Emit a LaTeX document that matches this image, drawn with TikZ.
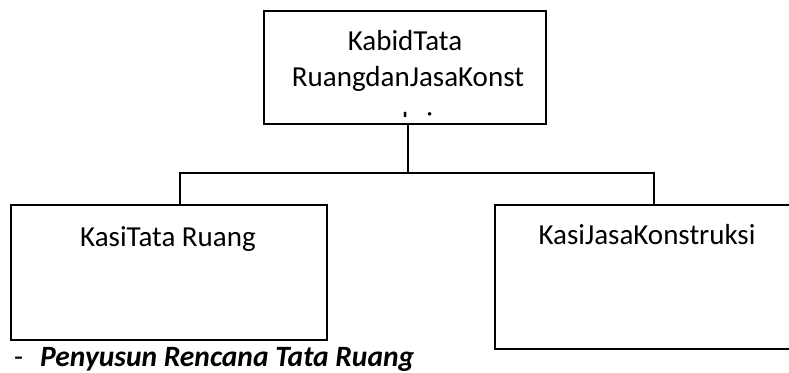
\documentclass[tikz,border=0pt]{standalone}
\usepackage{fontspec}
\setmainfont{Carlito}
\begin{document}
\begin{tikzpicture}[x=1pt,y=-1pt,
  box/.style={draw, line width=1.6pt, rectangle, inner sep=0pt},
  conn/.style={line width=1.6pt},
  lbl/.style={font=\fontsize{29}{35}\selectfont, inner sep=0pt, anchor=base},
  note/.style={font=\fontsize{29.5}{35}\selectfont, inner sep=0pt, anchor=base west}]
\clip (0,0) rectangle (789,372);

% organisation boxes
\node[box, minimum width=282pt, minimum height=113pt] (kabid) at (405,67.5) {};
\node[box, minimum width=316pt, minimum height=135pt] (kasiTR) at (169,272.5) {};
\node[box, minimum width=304pt, minimum height=144pt] (kasiJK) at (647,277) {};

% connector junctions
\coordinate (hub) at (408,173);
\coordinate (tl) at (180,173);
\coordinate (tr) at (654,173);

\draw[conn] (kabid.south -| hub) -- (hub);
\draw[conn] (kasiTR.north -| tl) -- (tl) -- (tr) -- (kasiJK.north -| tr);

% box titles
\node[lbl] (t1) at (405,50) {KabidTata};
\node[lbl] (t2) at (408,86) {RuangdanJasaKonst};
\begin{scope}
  \clip (264,11) rectangle (546,116);
  \node[lbl] (t3) at (405,132) {ruksi};
\end{scope}
\node[lbl] (t4) at (168,246) {KasiTata Ruang};
\node[lbl] (t5) at (647,244) {KasiJasaKonstruksi};

% task line below the left box
\node[note] (t6) at (14,366) {-\hspace{17pt}\textbf{\textit{Penyusun Rencana Tata Ruang}}};
\end{tikzpicture}
\end{document}
